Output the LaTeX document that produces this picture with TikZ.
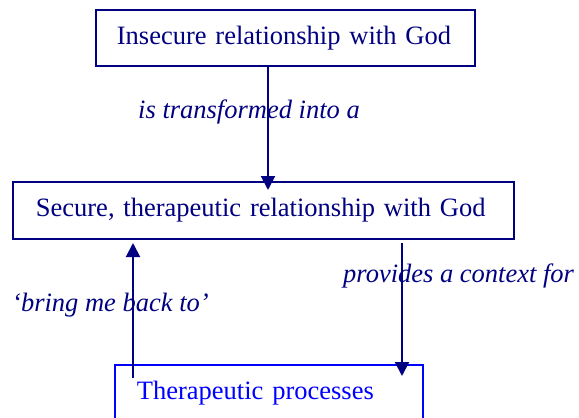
\documentclass[tikz,border=0pt]{standalone}
\usepackage{fontspec}
\setmainfont{Liberation Serif}
\usetikzlibrary{arrows.meta}
\definecolor{navy}{RGB}{0,0,128}
\definecolor{brightblue}{RGB}{0,0,255}
\tikzset{
  stage/.style={draw=navy, text=navy, line width=1.8pt, anchor=north west,
    align=left, inner ysep=0pt,
    font=\fontsize{26.5}{30}\selectfont},
  linktext/.style={text=navy, anchor=base west, inner sep=0pt,
    font=\fontsize{26.5}{30}\selectfont\itshape},
  flow/.style={draw=navy, line width=2pt,
    -{Triangle[width=14pt,length=14pt]}}
}
\begin{document}
\begin{tikzpicture}[x=1pt,y=-1pt]
\useasboundingbox (0,0) rectangle (579,418);
\clip (0,0) rectangle (579,418);
% the three stages
\node[stage, minimum width=379pt, minimum height=56pt, inner xsep=21pt,
  text width=337pt] (insecure) at (95,9) {Insecure relationship with God};
\node[stage, minimum width=501pt, minimum height=57pt, inner xsep=23pt,
  text width=455pt] (secure) at (12,181) {Secure, therapeutic relationship with God};
\node[stage, draw=brightblue, text=brightblue, minimum width=308pt,
  minimum height=57pt, inner xsep=22pt, text width=264pt]
  (processes) at (114,364) {Therapeutic processes};
% arrow end points
\coordinate (intoSecure) at (268,190);
\coordinate (backTip) at (133,243);
\coordinate (backStart) at (133,378);
\coordinate (contextStart) at (402,243);
\coordinate (contextTip) at (402,376);
% connectors
\draw[flow] (insecure.south -| intoSecure) -- (intoSecure);
\draw[flow] (backStart) -- (backTip);
\draw[flow] (contextStart) -- (contextTip);
% connector labels
\node[linktext] (lblTransform) at (138,118) {is transformed into a};
\node[linktext] (lblContext) at (343,282) {provides a context for};
\node[linktext] (lblBack) at (12,311) {‘bring me back to’};
\end{tikzpicture}
\end{document}
